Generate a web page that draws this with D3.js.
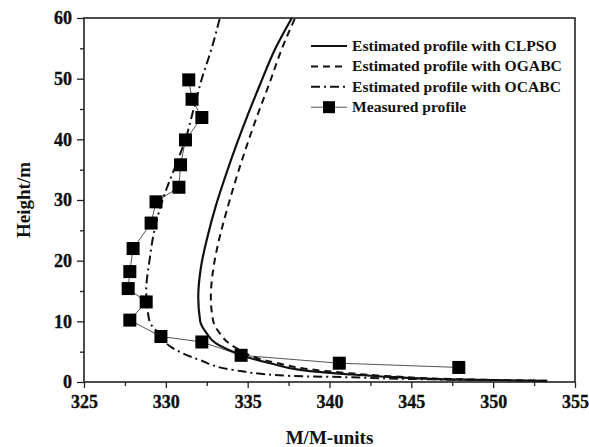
<!DOCTYPE html>
<html lang="en">
<head>
  <meta charset="UTF-8">
  <script src="https://cdn.jsdelivr.net/npm/d3@7"></script>
  <title>Height profile</title>
  <style>
    body { margin: 0; background: #fff; }
    text { font-family: "Liberation Serif", "Times New Roman", serif; font-weight: bold; fill: #111; }
  </style>
</head>
<body>
  <script>
    // measured profile [M/M-units, height m]
    const measured = [
      [331.4, 49.8], [331.6, 46.6], [332.2, 43.6], [331.2, 39.9], [330.9, 35.8],
      [330.8, 32.1], [329.4, 29.7], [329.1, 26.2], [328.0, 22.0], [327.8, 18.2],
      [327.7, 15.4], [328.8, 13.2], [327.8, 10.2], [329.7, 7.5], [332.2, 6.6],
      [334.6, 4.4], [340.6, 3.1], [347.9, 2.4]
    ];
    // estimated profiles
    const clpso = [
      [353.3, 0.2], [348, 0.4], [344, 0.8], [341, 1.3], [338.2, 2], [336.5, 3],
      [335.1, 4], [334.1, 5], [333.0, 6.5], [332.5, 8], [332.1, 10], [331.98, 14],
      [332.15, 19], [332.55, 24], [333.05, 29], [333.65, 34], [334.3, 39], [335.0, 44],
      [335.75, 49], [336.7, 55], [337.7, 60]
    ];
    const ogabc = [
      [353.3, 0.2], [348, 0.45], [344, 0.9], [341, 1.5], [338.5, 2.2], [337.0, 3],
      [335.5, 4], [334.7, 5], [333.8, 6.5], [333.3, 8], [332.9, 10], [332.75, 14],
      [332.92, 19], [333.3, 24], [333.8, 29], [334.35, 34], [334.95, 39], [335.6, 44],
      [336.3, 49], [337.1, 55], [337.9, 60]
    ];
    const ocabc = [
      [350, 0.3], [345, 0.5], [341, 0.8], [337.6, 1.0], [334.1, 2.0], [332.1, 3.6],
      [330.3, 5.8], [329.6, 8], [329.0, 10], [328.8, 15], [329.0, 20], [329.3, 25],
      [329.8, 30], [330.5, 35], [331.2, 40], [331.7, 45], [332.2, 50], [332.8, 55],
      [333.3, 60]
    ];
    const xTicks = [325, 330, 335, 340, 345, 350, 355];
    const yTicks = [0, 10, 20, 30, 40, 50, 60];
    const legendLabels = ["Estimated profile with CLPSO", "Estimated profile with OGABC",
      "Estimated profile with OCABC", "Measured profile"];

    const W = 589, H = 447;
    const m = { left: 84, right: 14, top: 18, bottom: 65 };

    const svg = d3.select('body').append('svg')
      .attr('width', W)
      .attr('height', H);

    const x = d3.scaleLinear().domain([325, 355]).range([m.left, W - m.right]);
    const y = d3.scaleLinear().domain([0, 60]).range([H - m.bottom, m.top]);

    svg.append('clipPath').attr('id', 'clip')
      .append('rect')
      .attr('x', m.left).attr('y', m.top)
      .attr('width', W - m.left - m.right).attr('height', H - m.top - m.bottom);

    // minor ticks
    const xAxisMinor = d3.axisBottom(x).tickValues(d3.range(327.5, 355, 5)).tickSize(4).tickFormat('');
    const yAxisMinor = d3.axisLeft(y).tickValues(d3.range(5, 60, 10)).tickSize(4).tickFormat('');
    svg.append('g').attr('transform', `translate(0,${H - m.bottom})`).call(xAxisMinor);
    svg.append('g').attr('transform', `translate(${m.left},0)`).call(yAxisMinor);

    svg.append('g')
      .attr('transform', `translate(0,${H - m.bottom})`)
      .call(d3.axisBottom(x).tickValues(xTicks).tickSize(6).tickPadding(7));
    svg.append('g')
      .attr('transform', `translate(${m.left},0)`)
      .call(d3.axisLeft(y).tickValues(yTicks).tickSize(7).tickPadding(5));

    svg.selectAll('.domain').remove();
    svg.selectAll('.tick line').attr('stroke', '#222').attr('stroke-width', 1.3);
    svg.selectAll('.tick text')
      .attr('font-family', '"Liberation Serif", serif')
      .attr('fill', '#000')
      .style('font-size', '18px').style('font-weight', 'bold')
      .attr('stroke', '#000').attr('stroke-width', 0.3);

    // frame
    svg.append('rect')
      .attr('x', m.left).attr('y', m.top)
      .attr('width', W - m.left - m.right).attr('height', H - m.top - m.bottom)
      .attr('fill', 'none').attr('stroke', '#222').attr('stroke-width', 1.6);

    const line = d3.line().x(d => x(d[0])).y(d => y(d[1]));
    const smooth = d3.line().x(d => x(d[0])).y(d => y(d[1])).curve(d3.curveMonotoneY);
    const plot = svg.append('g').attr('clip-path', 'url(#clip)');

    plot.append('path').datum(measured).attr('d', line)
      .attr('fill', 'none').attr('stroke', '#555').attr('stroke-width', 1);
    plot.append('path').datum(clpso).attr('d', smooth)
      .attr('fill', 'none').attr('stroke', '#111').attr('stroke-width', 2.2);
    plot.append('path').datum(ogabc).attr('d', smooth)
      .attr('fill', 'none').attr('stroke', '#111').attr('stroke-width', 2)
      .attr('stroke-dasharray', '7,5');
    plot.append('path').datum(ocabc).attr('d', smooth)
      .attr('fill', 'none').attr('stroke', '#111').attr('stroke-width', 2)
      .attr('stroke-dasharray', '9,4,2,4');

    const sq = 13;
    plot.selectAll('rect.pt').data(measured).enter().append('rect')
      .attr('class', 'pt')
      .attr('x', d => x(d[0]) - sq / 2).attr('y', d => y(d[1]) - sq / 2)
      .attr('width', sq).attr('height', sq).attr('fill', '#000');

    // legend
    const styles = [
      { dash: null, w: 2.2, c: '#111' },
      { dash: '7,5', w: 2, c: '#111' },
      { dash: '9,4,2,4', w: 2, c: '#111' },
      { dash: null, w: 1, c: '#555' }
    ];
    const lg = svg.append('g');
    legendLabels.forEach((t, i) => {
      const ly = 46 + i * 20.4;
      lg.append('line').attr('x1', 311).attr('x2', 347).attr('y1', ly).attr('y2', ly)
        .attr('stroke', styles[i].c).attr('stroke-width', styles[i].w)
        .attr('stroke-dasharray', styles[i].dash);
      if (i === 3) {
        lg.append('rect').attr('x', 329 - 6).attr('y', ly - 6).attr('width', 12).attr('height', 12).attr('fill', '#000');
      }
      lg.append('text').attr('x', 352).attr('y', ly + 5).style('font-size', '15.6px').text(t);
    });

    // axis titles
    svg.append('text').attr('x', (m.left + W - m.right) / 2).attr('y', 444)
      .attr('text-anchor', 'middle').style('font-size', '19px').text('M/M-units');
    svg.append('text').attr('transform', `translate(30,${(m.top + H - m.bottom) / 2}) rotate(-90)`)
      .attr('text-anchor', 'middle').style('font-size', '19px').text('Height/m');
  </script>
</body>
</html>
